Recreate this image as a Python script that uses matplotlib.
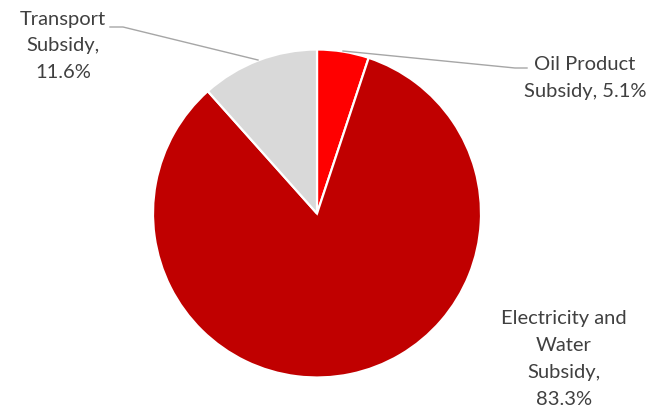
import matplotlib
matplotlib.use("Agg")
import matplotlib.pyplot as plt

categories = ["Oil Product Subsidy", "Electricity and Water Subsidy", "Transport Subsidy"]
shares = [5.1, 83.3, 11.6]
colors = ["#FF0000", "#C00000", "#D9D9D9"]
label_lines = [
    ["Oil Product", "Subsidy, 5.1%"],
    ["Electricity and", "Water", "Subsidy,", "83.3%"],
    ["Transport", "Subsidy,", "11.6%"],
]

W, H = 664, 410
fig = plt.figure(figsize=(W / 100, H / 100), dpi=100)
ax = fig.add_axes([0, 0, 1, 1])

cx, cy, r = 317, H - 214.5, 164
ax.pie(shares, colors=colors, startangle=90, counterclock=False,
       center=(cx, cy), radius=r, frame=True,
       wedgeprops=dict(edgecolor="white", linewidth=1.6))
ax.set_xlim(0, W)
ax.set_ylim(0, H)
ax.set_aspect("equal")
ax.axis("off")

txt = dict(color="#404040", fontsize=14.5, family=["Lato", "DejaVu Sans"],
           ha="center", va="center")

# label blocks: (center x, first line y from top, line step)
blocks = [(585, 64, 28), (564, 319, 27), (63, 19, 27)]
for lines, (x, y0, step) in zip(label_lines, blocks):
    for i, s in enumerate(lines):
        ax.text(x, H - (y0 + i * step), s, **txt)

# leader lines
lc = dict(color="#A6A6A6", linewidth=1.0)
ax.plot([527, 515, 343], [H - 69, H - 69, H - 52], **lc)
ax.plot([110, 123, 258], [H - 28, H - 28, H - 61], **lc)

fig.savefig("out.png", dpi=100)
